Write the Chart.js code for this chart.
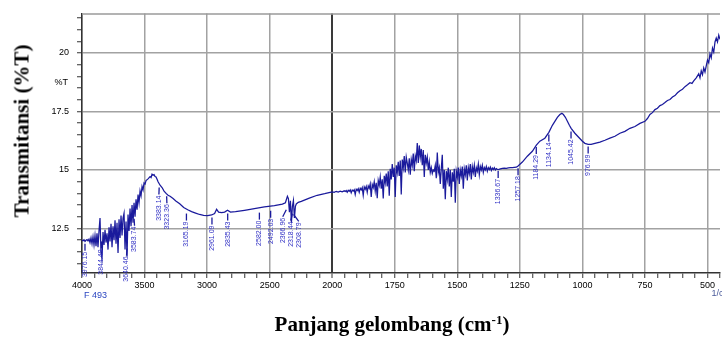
<!DOCTYPE html>
<html>
<head>
<meta charset="utf-8">
<script src="https://cdn.jsdelivr.net/npm/chart.js@4/dist/chart.umd.min.js"></script>
<style>
  body { margin: 0; background: #fff; }
  #wrap { position: relative; width: 722px; height: 338px; overflow: hidden; }
  #ftir { position: absolute; left: 0; top: 0; }
  .ttl { position: absolute; font-family: "Liberation Serif", "Times New Roman", serif; font-weight: bold; font-size: 21px; color: #000; white-space: nowrap; }
  #ytitle { left: 22px; top: 131px; transform: translate(-50%, -50%) rotate(-90deg); }
  #xtitle { left: 392px; top: 312px; transform: translateX(-50%); }
  #xtitle sup { font-size: 13px; vertical-align: 7px; line-height: 0; }
</style>
</head>
<body>
<div id="wrap">
  <canvas id="ftir" width="722" height="338"></canvas>
  <div class="ttl" id="ytitle">Transmitansi (%T)</div>
  <div class="ttl" id="xtitle">Panjang gelombang (cm<sup>-1</sup>)</div>
</div>
<script>
// spectrum: wavenumber (cm-1) and %T, split by region
const wnHigh = [4000, 3992, 3984, 3976, 3968, 3960, 3952, 3944, 3936, 3928, 3920, 3912, 3904, 3896, 3888, 3880, 3872, 3864, 3856, 3848,
  3840, 3832, 3824, 3816, 3808, 3800, 3792, 3784, 3776, 3768, 3760, 3752, 3744, 3736, 3728, 3720, 3712, 3704, 3696, 3688,
  3680, 3672, 3664, 3656, 3648, 3640, 3632, 3624, 3616, 3608, 3600, 3592, 3584, 3576, 3568, 3560, 3552, 3544, 3536, 3528,
  3520, 3512, 3504, 3496, 3488, 3472, 3456, 3448, 3440, 3432, 3424, 3416, 3408, 3400, 3392, 3376, 3360, 3344, 3328, 3312,
  3296, 3272, 3250, 3219, 3187, 3155, 3124, 3092, 3060, 3028, 2996, 2964, 2940, 2924, 2908, 2884, 2860, 2837, 2813, 2773,
  2701, 2622, 2542, 2462, 2398, 2374, 2358, 2350, 2342, 2334, 2326, 2318, 2310, 2302, 2294, 2287, 2271, 2247, 2183, 2120,
  2060, 2000];
const tHigh = [12.00, 11.98, 12.02, 11.95, 12.00, 12.03, 11.97, 12.05, 11.90, 12.10, 11.85, 12.15, 11.80, 12.20, 11.75, 12.30, 11.70, 12.40, 12.95, 11.45,
  11.20, 12.35, 11.80, 12.45, 11.90, 12.30, 11.60, 12.55, 11.95, 12.70, 11.70, 12.60, 12.00, 12.85, 11.85, 12.75, 11.45, 12.90, 12.10, 13.05,
  12.20, 12.95, 13.15, 11.60, 12.80, 11.30, 13.10, 12.40, 13.35, 12.60, 13.50, 12.75, 13.60, 13.00, 13.75, 13.30, 13.95, 13.60, 14.10, 13.90,
  14.30, 14.15, 14.45, 14.40, 14.55, 14.62, 14.72, 14.68, 14.82, 14.78, 14.80, 14.72, 14.70, 14.60, 14.50, 14.35, 14.25, 14.10, 14.00, 13.92,
  13.88, 13.78, 13.68, 13.56, 13.40, 13.30, 13.22, 13.16, 13.10, 13.06, 13.05, 13.08, 13.14, 13.32, 13.20, 13.18, 13.20, 13.28, 13.20, 13.22,
  13.28, 13.35, 13.42, 13.48, 13.54, 13.60, 13.88, 13.78, 13.20, 13.68, 12.75, 13.45, 13.70, 12.95, 13.45, 13.55, 13.62, 13.66, 13.80, 13.92,
  13.99, 14.07];

const wnMid = [1992, 1984, 1976, 1968, 1960, 1952, 1948, 1944, 1940, 1936, 1932, 1928, 1924, 1920, 1916, 1912, 1908, 1904, 1900, 1896,
  1892, 1888, 1884, 1880, 1876, 1872, 1868, 1864, 1860, 1856, 1852, 1848, 1844, 1840, 1836, 1832, 1828, 1824, 1820, 1816,
  1812, 1808, 1804, 1800, 1796, 1792, 1788, 1784, 1780, 1776, 1772, 1768, 1764, 1760, 1756, 1752, 1748, 1744, 1740, 1736,
  1732, 1728, 1724, 1720, 1716, 1712, 1708, 1704, 1700, 1696, 1692, 1688, 1684, 1680, 1676, 1672, 1668, 1664, 1660, 1656,
  1652, 1648, 1644, 1640, 1636, 1632, 1628, 1624, 1620, 1616, 1612, 1608, 1604, 1600, 1596, 1592, 1588, 1584, 1580, 1576,
  1572, 1568, 1564, 1560, 1556, 1552, 1548, 1544, 1540, 1536, 1532, 1528, 1524, 1520, 1516, 1512, 1508, 1504, 1500, 1496,
  1492, 1488, 1484, 1480, 1476, 1472, 1468, 1464, 1460, 1456, 1452, 1448, 1444, 1440, 1436, 1432, 1428, 1424, 1420, 1416,
  1412, 1408, 1404, 1400, 1396, 1392, 1388, 1384, 1380, 1376, 1372, 1368, 1364, 1360, 1356, 1352, 1348, 1344, 1340, 1336,
  1328, 1320, 1312, 1304, 1296, 1288, 1280, 1272, 1264];
const tMid = [14.05, 14.09, 14.06, 14.10, 14.07, 14.11, 14.08, 14.12, 14.05, 14.13, 14.09, 14.15, 14.02, 14.14, 14.10, 14.16, 13.95, 14.18, 14.12, 14.20,
  14.05, 14.22, 14.15, 14.25, 13.92, 14.28, 14.18, 14.30, 14.05, 14.32, 14.22, 14.40, 13.85, 14.38, 14.25, 14.50, 14.10, 14.45, 13.80, 14.55,
  14.35, 14.70, 14.20, 14.60, 13.78, 14.75, 14.45, 14.85, 14.30, 14.95, 13.90, 15.05, 14.60, 15.25, 14.70, 15.10, 13.85, 15.20, 14.90, 15.35,
  14.75, 15.40, 13.95, 15.45, 15.10, 15.60, 14.90, 15.55, 15.30, 15.00, 15.50, 14.80, 15.45, 15.20, 15.70, 14.95, 15.60, 15.40, 16.15, 15.30,
  16.05, 15.55, 15.90, 15.20, 15.85, 14.70, 15.65, 15.30, 15.55, 15.00, 15.35, 14.90, 15.10, 14.85, 15.00, 14.95, 15.20, 14.65, 15.75, 14.90,
  15.10, 14.40, 15.05, 15.65, 14.20, 15.00, 13.75, 14.95, 14.60, 15.10, 14.30, 15.00, 13.85, 14.90, 14.50, 15.05, 13.60, 14.95, 14.70, 15.10,
  14.40, 15.00, 14.75, 15.15, 14.20, 15.05, 14.80, 15.20, 14.55, 15.10, 14.85, 15.25, 14.60, 15.15, 14.90, 15.20, 14.70, 15.10, 14.95, 15.25,
  14.80, 15.15, 15.00, 15.20, 14.90, 15.10, 15.00, 15.15, 14.95, 15.10, 15.02, 15.12, 14.98, 15.08, 15.02, 15.10, 15.00, 15.06, 15.03, 15.02,
  15.05, 15.07, 15.08, 15.07, 15.09, 15.10, 15.10, 15.11, 15.12];

const wnLow = [1257, 1240, 1220, 1200, 1184, 1170, 1150, 1134, 1120, 1110, 1100, 1090, 1082, 1076, 1068, 1060, 1052, 1045, 1030, 1015,
  1000, 990, 977, 965, 950, 930, 910, 890, 870, 850, 830, 810, 790, 770, 750, 740, 730, 720, 710, 700,
  690, 680, 670, 660, 650, 640, 630, 620, 610, 600, 590, 580, 570, 562, 555, 545, 535, 530, 525, 520,
  515, 510, 505, 500, 495, 490, 485, 480, 475, 470, 465, 460, 455, 450];
const tLow = [15.17, 15.34, 15.59, 15.80, 16.06, 16.23, 16.36, 16.61, 16.91, 17.08, 17.25, 17.37, 17.42, 17.37, 17.25, 17.08, 16.91, 16.78, 16.57, 16.40,
  16.23, 16.14, 16.10, 16.10, 16.14, 16.19, 16.27, 16.36, 16.44, 16.57, 16.65, 16.78, 16.86, 16.99, 17.08, 17.20, 17.37, 17.45, 17.58, 17.64,
  17.75, 17.80, 17.88, 17.97, 18.01, 18.12, 18.18, 18.30, 18.39, 18.45, 18.56, 18.64, 18.73, 18.70, 18.81, 18.94, 19.11, 18.94, 19.24, 19.07,
  19.36, 19.19, 19.45, 19.70, 19.58, 19.96, 19.79, 20.21, 20.04, 20.47, 20.64, 20.47, 20.76, 20.58];

// peak markers: wavenumber, text, %T where the marker line starts
const peakWn = [3976.15, 3844.49, 3640.46, 3583.74, 3383.14, 3323.36, 3165.19, 2961.09, 2835.43, 2582.00,
  2492.03, 2366.96, 2318.44, 2308.79, 1336.67, 1257.18, 1184.29, 1134.14, 1045.42, 976.99];
const peakText = ['3976.15', '3844.49', '3640.46', '3583.74', '3383.14', '3323.36', '3165.19', '2961.09', '2835.43', '2582.00',
  '2492.03', '2366.96', '2318.44', '2308.79', '1336.67', '1257.18', '1184.29', '1134.14', '1045.42', '976.99'];
const peakTop = [11.85, 11.95, 11.65, 12.92, 14.25, 13.88, 13.14, 12.97, 13.14, 13.18,
  13.26, 13.30, 13.14, 13.10, 14.96, 15.08, 15.98, 16.52, 16.65, 16.00];

const xMajor = [4000, 3500, 3000, 2500, 2000, 1750, 1500, 1250, 1000, 750, 500];
const yMajor = [12.5, 15, 17.5, 20];
const yTicks = [11, 11.5, 12, 12.5, 13, 13.5, 14, 14.5, 15, 15.5, 16, 16.5, 17, 17.5, 18, 18.5, 19, 19.5, 20, 20.5, 21, 21.5];

// the axis is compressed 2x above 2000 cm-1, like the instrument plot
function toPos(w) { return w >= 2000 ? (4000 - w) / 2 : 1000 + (2000 - w); }
function fromPos(p) { return p <= 1000 ? 4000 - 2 * p : 2000 - (p - 1000); }

const allWn = wnHigh.concat(wnMid, wnLow);
const allT = tHigh.concat(tMid, tLow);
const points = allWn.map((w, i) => ({ x: toPos(w), y: allT[i] }));

const LINE = '#1a1a9c';
const MARK = '#3030c4';

const extras = {
  id: 'extras',
  afterDatasetsDraw(chart) {
    const { ctx, chartArea: a, scales: { x, y } } = chart;
    ctx.save();
    // frame top
    ctx.strokeStyle = '#9a9a9a';
    ctx.lineWidth = 1.5;
    ctx.beginPath();
    ctx.moveTo(a.left, a.top + 0.5);
    ctx.lineTo(a.right, a.top + 0.5);
    ctx.stroke();

    // spread crowded markers around their cluster centre
    const raw = peakWn.map(w => x.getPixelForValue(toPos(w)));
    const pos = raw.slice();
    const gap = 8;
    let i = 0;
    while (i < raw.length) {
      let j = i;
      while (j + 1 < raw.length && raw[j + 1] - raw[j] < gap) j++;
      if (j > i) {
        let c = 0;
        for (let k = i; k <= j; k++) c += raw[k];
        c /= (j - i + 1);
        for (let k = i; k <= j; k++) pos[k] = c + (k - i - (j - i) / 2) * gap;
      }
      i = j + 1;
    }

    ctx.font = '7px "Liberation Sans Narrow", "Liberation Sans", sans-serif';
    peakWn.forEach((w, k) => {
      const y0 = y.getPixelForValue(peakTop[k]);
      ctx.strokeStyle = LINE;
      ctx.lineWidth = 1.3;
      ctx.beginPath();
      ctx.moveTo(raw[k], y0);
      ctx.lineTo(pos[k], y0 + 7);
      ctx.stroke();
      ctx.save();
      ctx.translate(pos[k], y0 + 8);
      ctx.rotate(-Math.PI / 2);
      ctx.fillStyle = MARK;
      ctx.textAlign = 'right';
      ctx.textBaseline = 'middle';
      ctx.fillText(peakText[k], 0, 0);
      ctx.restore();
    });

    // small instrument annotations
    ctx.font = '9px "Liberation Sans", sans-serif';
    ctx.fillStyle = '#000';
    ctx.textAlign = 'right';
    ctx.textBaseline = 'middle';
    ctx.fillText('%T', a.left - 14, y.getPixelForValue(18.75));
    ctx.fillStyle = '#2a45c0';
    ctx.textAlign = 'left';
    ctx.fillText('F 493', a.left + 2, a.bottom + 23);
    ctx.fillStyle = '#4a5a9a';
    ctx.fillText('1/cm', x.getPixelForValue(toPos(500)) + 4, a.bottom + 21);
    ctx.restore();
  }
};

new Chart(document.getElementById('ftir'), {
  type: 'line',
  data: {
    datasets: [{
      data: points,
      borderColor: LINE,
      borderWidth: 1.25,
      pointRadius: 0,
      tension: 0,
      fill: false
    }]
  },
  options: {
    responsive: false,
    animation: false,
    devicePixelRatio: 1,
    layout: { padding: { top: 10, right: 1, left: 0, bottom: 0 } },
    plugins: { legend: { display: false }, tooltip: { enabled: false } },
    scales: {
      x: {
        type: 'linear',
        min: 0,
        max: 2550,
        afterFit: s => { s.height = 65; },
        ticks: {
          stepSize: 50,
          autoSkip: false,
          maxRotation: 0,
          padding: 2,
          color: '#000',
          font: { family: '"Liberation Sans", sans-serif', size: 9 },
          callback: v => xMajor.includes(fromPos(v)) ? String(fromPos(v)) : ''
        },
        grid: {
          color: c => {
            const w = fromPos(c.tick.value);
            if (w === 2000) return '#3a3a3a';
            return xMajor.includes(w) ? '#a2a2a2' : 'rgba(0,0,0,0)';
          },
          lineWidth: c => fromPos(c.tick.value) === 2000 ? 2 : 1.5,
          tickColor: '#333',
          tickLength: 5,
          tickWidth: 1
        },
        border: { color: '#333', width: 1.5 }
      },
      y: {
        min: 10.6,
        max: 21.69,
        afterFit: s => { s.width = 82; },
        afterBuildTicks: s => { s.ticks = yTicks.map(v => ({ value: v })); },
        ticks: {
          autoSkip: false,
          padding: 8,
          color: '#000',
          font: { family: '"Liberation Sans", sans-serif', size: 9 },
          callback: v => yMajor.includes(v) ? String(v) : ''
        },
        grid: {
          color: c => yMajor.includes(c.tick.value) ? '#a2a2a2' : 'rgba(0,0,0,0)',
          lineWidth: 1.5,
          tickColor: '#333',
          tickLength: 5,
          tickWidth: 1
        },
        border: { color: '#333', width: 1.5 }
      }
    }
  },
  plugins: [extras]
});
</script>
</body>
</html>
